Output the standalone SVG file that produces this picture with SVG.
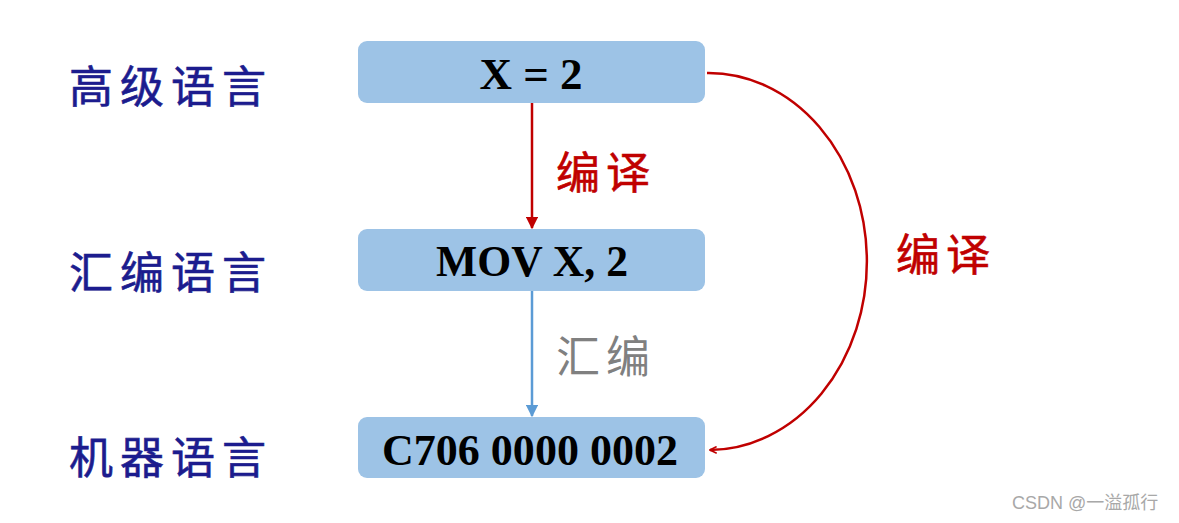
<svg xmlns="http://www.w3.org/2000/svg" width="1179" height="523" viewBox="0 0 1179 523">
<style>
.box{fill:#9DC3E6}
.bt{font-family:"Liberation Serif","Times New Roman",serif;font-weight:bold;font-size:45px;fill:#000;text-anchor:middle}
.lab{font-family:"Noto Sans CJK SC",sans-serif;font-size:44px;fill:#1C1C8E;letter-spacing:7px;dominant-baseline:central;stroke:#1C1C8E;stroke-width:0.6}
.red{font-family:"Noto Sans CJK SC",sans-serif;font-size:44px;fill:#C00000;letter-spacing:6px;dominant-baseline:central;stroke:#C00000;stroke-width:0.6}
.gray{font-family:"Noto Sans CJK SC",sans-serif;font-size:44px;fill:#808080;letter-spacing:6px;dominant-baseline:central}
</style>
<defs>
<marker id="ar" viewBox="0 0 10 10" refX="9" refY="5" markerWidth="5" markerHeight="5" orient="auto"><path d="M0,0 L10,5 L0,10 z" fill="#C00000"/></marker>
<marker id="ab" viewBox="0 0 10 10" refX="9" refY="5" markerWidth="5" markerHeight="5" orient="auto"><path d="M0,0 L10,5 L0,10 z" fill="#5B9BD5"/></marker>
<marker id="ao" viewBox="0 0 12 12" refX="11" refY="6" markerWidth="8" markerHeight="8" orient="auto" markerUnits="userSpaceOnUse"><path d="M1,1 L11,6 L1,11" fill="none" stroke="#C00000" stroke-width="2.5"/></marker>
</defs>
<rect width="1179" height="523" fill="#fff"/>
<g id="label-high"><text class="lab" x="69" y="84">高级语言</text></g>
<g id="label-asm"><text class="lab" x="69" y="270">汇编语言</text></g>
<g id="label-mach"><text class="lab" x="69" y="455">机器语言</text></g>
<g id="node-high"><rect class="box" x="358" y="41" width="347" height="62" rx="9"/><text class="bt" x="531" y="89">X = 2</text></g>
<g id="node-asm"><rect class="box" x="358" y="229" width="347" height="62" rx="9"/><text class="bt" x="532" y="276" textLength="192" lengthAdjust="spacingAndGlyphs">MOV X, 2</text></g>
<g id="node-mach"><rect class="box" x="358" y="417" width="347" height="61" rx="9"/><text class="bt" x="530" y="465" textLength="296" lengthAdjust="spacingAndGlyphs">C706 0000 0002</text></g>
<g id="connectors">
<line x1="532" y1="103" x2="532" y2="228" stroke="#C00000" stroke-width="2.5" marker-end="url(#ar)"/>
<line x1="532" y1="291" x2="532" y2="416" stroke="#5B9BD5" stroke-width="2.5" marker-end="url(#ab)"/>
<path d="M707,73 A158 188 0 0 1 710,450" fill="none" stroke="#C00000" stroke-width="2.5" marker-end="url(#ao)"/>
<text class="red" x="556" y="170">编译</text>
<text class="gray" x="556" y="354">汇编</text>
<text class="red" x="896" y="252">编译</text>
</g>
<text x="1012" y="509" font-family="Liberation Sans,'Noto Sans CJK SC',sans-serif" font-size="18" fill="#A8A8A8">CSDN @一溢孤行</text>
</svg>
